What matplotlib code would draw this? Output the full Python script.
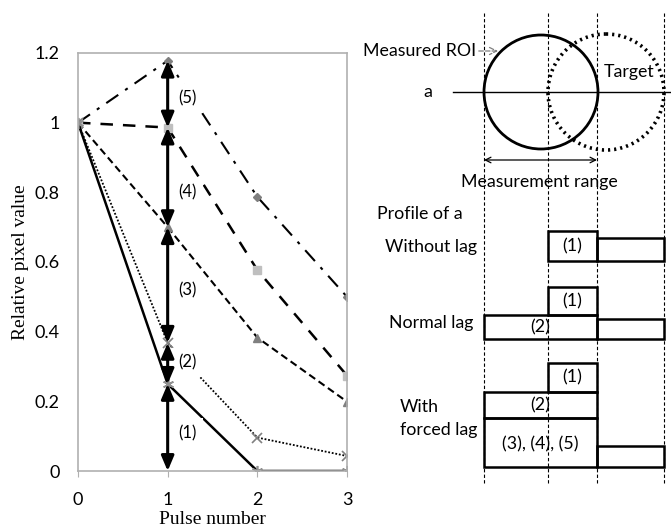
import matplotlib.pyplot as plt
from matplotlib.patches import Circle, Rectangle

# --- chart data ---
pulses = [0, 1, 2, 3]
s5 = [1, 1.178, 0.787, 0.50]
s4 = [1, 0.986, 0.577, 0.274]
s3 = [1, 0.70, 0.383, 0.199]
s2 = [1, 0.368, 0.096, 0.043]
s1 = [1, 0.25, 0, 0]
yticks = [0, 0.2, 0.4, 0.6, 0.8, 1, 1.2]
ytick_labels = ["0", "0.2", "0.4", "0.6", "0.8", "1", "1.2"]
range_labels = ["(1)", "(2)", "(3)", "(4)", "(5)"]
range_label_y = [0.109, 0.311, 0.518, 0.80, 1.07]

# --- schematic (pixel coords of the figure) ---
guide_x = [484, 548, 597, 664]
roi_center, roi_r = (541, 92), 57
target_center, target_r = (606, 92), 58
baselines = [261, 339, 467]
# boxes: (row, x0, x1, y_top, y_bottom, label)
boxes = [
    (0, 548, 597, 231, 261, "(1)"),
    (0, 597, 664, 238, 261, ""),
    (1, 548, 597, 287, 315, "(1)"),
    (1, 484, 597, 315, 339, "(2)"),
    (1, 597, 664, 319, 339, ""),
    (2, 548, 597, 363, 392, "(1)"),
    (2, 484, 597, 392, 418, "(2)"),
    (2, 484, 597, 418, 467, "(3), (4), (5)"),
    (2, 597, 664, 446, 467, ""),
]

fam = ["Lato", "DejaVu Sans"]
serif = ["Liberation Serif", "DejaVu Serif"]
fs = 12.8

fig = plt.figure(figsize=(6.71, 5.31), dpi=100)
W, H = 671, 531
ax = fig.add_axes([78 / W, 1 - 471 / H, (347 - 78) / W, (471 - 53) / H])

ax.plot(pulses, s5, color="black", lw=1.5, linestyle=(0, (7, 4, 1.5, 4)),
        marker="D", ms=4, mfc="#7f7f7f", mec="#7f7f7f", zorder=2)
ax.plot(pulses, s4, color="black", lw=1.8, linestyle=(0, (5, 4)),
        marker="s", ms=6, mfc="#bfbfbf", mec="#bfbfbf", zorder=2)
ax.plot(pulses, s3, color="black", lw=1.5, linestyle=(0, (3.5, 2)),
        marker="^", ms=6, mfc="#808080", mec="#808080", zorder=2)
ax.plot(pulses, s2, color="black", lw=1.3, linestyle=(0, (1, 1)),
        marker="x", ms=7, mec="#808080", mew=1.2, zorder=2)
ax.plot(pulses, s1, color="black", lw=1.8, linestyle="-",
        marker=(6, 2, 0), ms=8, mec="#909090", mew=1.2, zorder=2)

# double arrows at pulse 1 between the series values
bounds = sorted([0] + [s[1] for s in (s1, s2, s3, s4, s5)])
for lo, hi in zip(bounds[:-1], bounds[1:]):
    ax.annotate("", xy=(1, hi), xytext=(1, lo),
                arrowprops=dict(arrowstyle="<|-|>,head_length=0.9,head_width=0.38",
                                mutation_scale=10, lw=2.2, color="black",
                                shrinkA=0, shrinkB=0), zorder=4)
for lab, yy in zip(range_labels, range_label_y):
    ax.text(1.22, yy, lab, fontsize=12, family=fam, ha="center", va="center",
            bbox=dict(boxstyle="square,pad=0.4", fc="white", ec="none"), zorder=3)

ax.set_xlim(0, 3)
ax.set_ylim(0, 1.2)
ax.set_xticks(pulses)
ax.set_yticks(yticks)
ax.set_yticklabels(ytick_labels)
for sp in ax.spines.values():
    sp.set_color("#b0b0b0")
    sp.set_linewidth(1.2)
ax.tick_params(axis="y", length=0, pad=13, labelsize=13)
ax.tick_params(axis="x", length=4, color="#b0b0b0", direction="out", pad=11, labelsize=13)
for t in ax.get_xticklabels() + ax.get_yticklabels():
    t.set_family(fam)
ax.set_xlabel("Pulse number", family=serif, fontsize=14, labelpad=2)
ax.set_ylabel("Relative pixel value", family=serif, fontsize=14, labelpad=4)

# --- schematic overlay ---
ov = fig.add_axes([0, 0, 1, 1], zorder=-1)
ov.set_xlim(0, W)
ov.set_ylim(H, 0)
ov.axis("off")

for gx in guide_x:
    ov.plot([gx, gx], [13, 483], color="black", lw=0.8, linestyle=(0, (3, 2)))

ov.plot([453, 672], [92, 92], color="black", lw=1)
ov.add_patch(Circle(roi_center, roi_r, fill=False, ec="black", lw=2))
ov.add_patch(Circle(target_center, target_r, fill=False, ec="black", lw=2.6,
                    linestyle=(0, (0.6, 1.1))))
ov.annotate("", xy=(guide_x[2], 160), xytext=(guide_x[0], 160),
            arrowprops=dict(arrowstyle="<->", lw=0.9, color="black",
                            shrinkA=0, shrinkB=0))
ov.annotate("Measured ROI", xy=(498, 51), xytext=(476, 51), fontsize=fs, family=fam,
            ha="right", va="center",
            arrowprops=dict(arrowstyle="->", lw=0.9, color="#808080", linestyle="--",
                            shrinkA=0, shrinkB=0))
ov.text(629, 72, "Target", fontsize=fs, family=fam, ha="center", va="center")
ov.text(428, 92, "a", fontsize=fs, family=fam, ha="center", va="center")
ov.text(539, 182, "Measurement range", fontsize=fs, family=fam, ha="center", va="center")
ov.text(377, 214, "Profile of a", fontsize=fs, family=fam, ha="left", va="center")
ov.text(477, 247, "Without lag", fontsize=fs, family=fam, ha="right", va="center")
ov.text(473, 323, "Normal lag", fontsize=fs, family=fam, ha="right", va="center")
ov.text(400, 407, "With", fontsize=fs, family=fam, ha="left", va="center")
ov.text(400, 430, "forced lag", fontsize=fs, family=fam, ha="left", va="center")

base_x0 = [470, 470, 467]
for y, x0 in zip(baselines, base_x0):
    ov.annotate("", xy=(675, y), xytext=(x0, y),
                arrowprops=dict(arrowstyle="->", lw=1.8, color="black",
                                shrinkA=0, shrinkB=0))

for row, x0, x1, yt, yb, lab in boxes:
    ov.add_patch(Rectangle((x0, yt), x1 - x0, yb - yt, fill=False, ec="black", lw=1.8))
    if lab:
        xc = 572 if lab == "(1)" else 540
        yc = (yt + yb) / 2 + (2 if lab.startswith("(3)") else 0)
        ov.text(xc, yc, lab, fontsize=fs, family=fam, ha="center", va="center")

fig.savefig("out.png", dpi=100)
